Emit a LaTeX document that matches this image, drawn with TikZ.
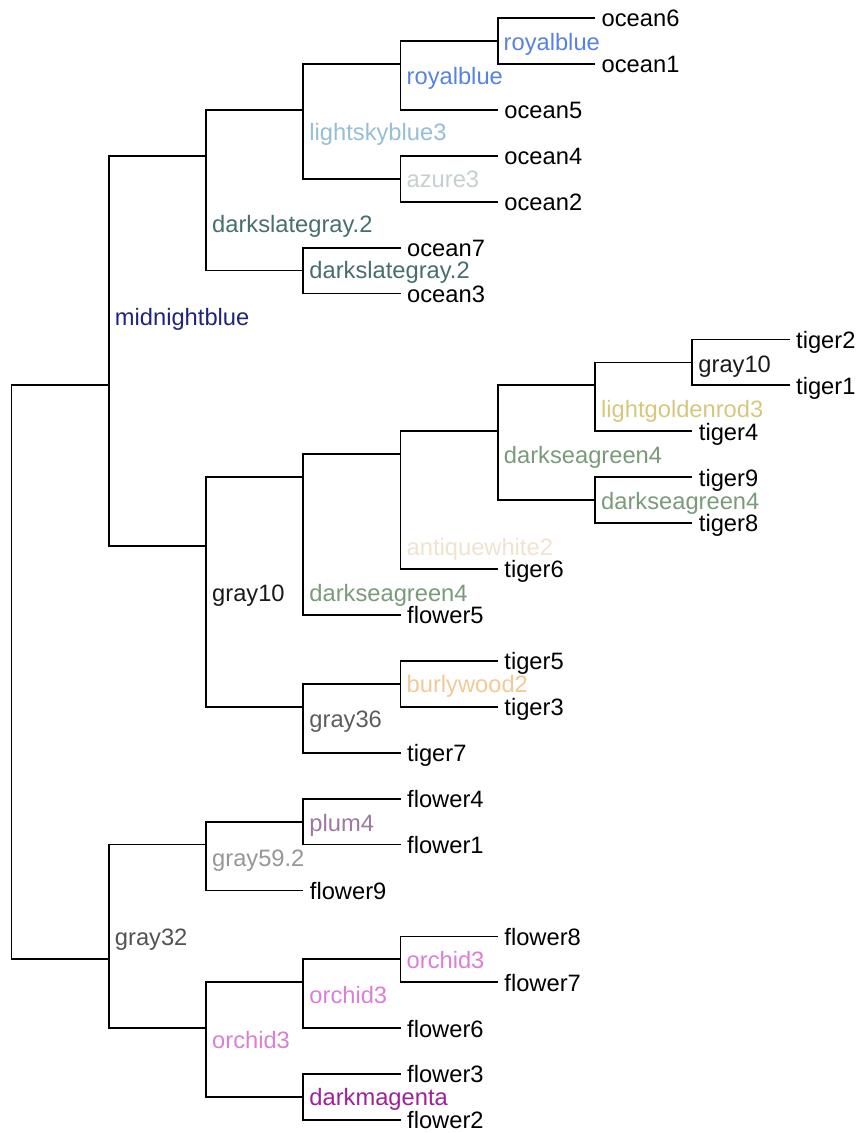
\documentclass[tikz,border=0pt]{standalone}
\usepackage{fontspec}
\setmainfont{Liberation Sans}
\definecolor{cRoyal}{RGB}{86,130,230}
\definecolor{cSky}{RGB}{150,190,212}
\definecolor{cAzure}{RGB}{196,208,208}
\definecolor{cDSG}{RGB}{70,110,110}
\definecolor{cMidnight}{RGB}{30,35,125}
\definecolor{cGrayTen}{RGB}{26,26,26}
\definecolor{cGold}{RGB}{214,199,124}
\definecolor{cSeaGreen}{RGB}{120,155,120}
\definecolor{cAntique}{RGB}{240,226,208}
\definecolor{cBurly}{RGB}{240,202,150}
\definecolor{cGrayThirtySix}{RGB}{92,92,92}
\definecolor{cPlum}{RGB}{158,120,160}
\definecolor{cGrayFiftyNine}{RGB}{150,150,150}
\definecolor{cGrayThirtyTwo}{RGB}{82,82,82}
\definecolor{cOrchid}{RGB}{220,125,215}
\definecolor{cMagenta}{RGB}{158,32,155}
\begin{document}
\begin{tikzpicture}[x=1pt,y=-1pt,
  edge/.style={line width=1.8pt, line join=miter, draw=black},
  lab/.style={anchor=base west, inner sep=0pt, font=\fontsize{23.7}{28}\selectfont},
  leaf/.style={lab, text=black}]
\useasboundingbox (0,0) rectangle (861,1133);
% internal nodes (x = level, y = mean of leaves)
\coordinate (root) at (11.5,569.04);
\coordinate (mb)   at (108.75,385.36);
\coordinate (g32)  at (108.75,959.36);
\coordinate (dsgO) at (206,155.76);
\coordinate (gyB)  at (206,546.08);
\coordinate (g59)  at (206,844.56);
\coordinate (oA)   at (206,1028.24);
\coordinate (lsb)  at (303.25,109.84);
\coordinate (dsgI) at (303.25,270.56);
\coordinate (dsgA) at (303.25,477.2);
\coordinate (g36)  at (303.25,706.8);
\coordinate (pl)   at (303.25,821.6);
\coordinate (oB)   at (303.25,982.32);
\coordinate (dm)   at (303.25,1097.12);
\coordinate (rbO)  at (400.5,63.92);
\coordinate (az)   at (400.5,178.72);
\coordinate (aw)   at (400.5,454.24);
\coordinate (bw)   at (400.5,683.84);
\coordinate (oC)   at (400.5,959.36);
\coordinate (rbI)  at (497.75,40.96);
\coordinate (dsgB) at (497.75,431.28);
\coordinate (lg)   at (595,385.36);
\coordinate (dsgC) at (595,500.16);
\coordinate (gyS)  at (692.25,362.4);
% leaf tips
\coordinate (ocean6)  at (595,18);
\coordinate (ocean1)  at (595,63.92);
\coordinate (ocean5)  at (497.75,109.84);
\coordinate (ocean4)  at (497.75,155.76);
\coordinate (ocean2)  at (497.75,201.68);
\coordinate (ocean7)  at (400.5,247.6);
\coordinate (ocean3)  at (400.5,293.52);
\coordinate (tiger2)  at (789.5,339.44);
\coordinate (tiger1)  at (789.5,385.36);
\coordinate (tiger4)  at (692.25,431.28);
\coordinate (tiger9)  at (692.25,477.2);
\coordinate (tiger8)  at (692.25,523.12);
\coordinate (tiger6)  at (497.75,569.04);
\coordinate (flower5) at (400.5,614.96);
\coordinate (tiger5)  at (497.75,660.88);
\coordinate (tiger3)  at (497.75,706.8);
\coordinate (tiger7)  at (400.5,752.72);
\coordinate (flower4) at (400.5,798.64);
\coordinate (flower1) at (400.5,844.56);
\coordinate (flower9) at (303.25,890.48);
\coordinate (flower8) at (497.75,936.4);
\coordinate (flower7) at (497.75,982.32);
\coordinate (flower6) at (400.5,1028.24);
\coordinate (flower3) at (400.5,1074.16);
\coordinate (flower2) at (400.5,1120.08);
% branches
\foreach \p/\c in {root/mb, root/g32, mb/dsgO, mb/gyB, dsgO/lsb, dsgO/dsgI,
  lsb/rbO, lsb/az, rbO/rbI, rbO/ocean5, rbI/ocean6, rbI/ocean1,
  az/ocean4, az/ocean2, dsgI/ocean7, dsgI/ocean3,
  gyB/dsgA, gyB/g36, dsgA/aw, dsgA/flower5, aw/dsgB, aw/tiger6,
  dsgB/lg, dsgB/dsgC, lg/gyS, lg/tiger4, gyS/tiger2, gyS/tiger1,
  dsgC/tiger9, dsgC/tiger8, g36/bw, g36/tiger7, bw/tiger5, bw/tiger3,
  g32/g59, g32/oA, g59/pl, g59/flower9, pl/flower4, pl/flower1,
  oA/oB, oA/dm, oB/oC, oB/flower6, oC/flower8, oC/flower7,
  dm/flower3, dm/flower2}
  \draw[edge] (\p) |- (\c);
% leaf labels
\foreach \l in {ocean6,ocean1,ocean5,ocean4,ocean2,ocean7,ocean3,
  tiger2,tiger1,tiger4,tiger9,tiger8,tiger6,flower5,tiger5,tiger3,tiger7,
  flower4,flower1,flower9,flower8,flower7,flower6,flower3,flower2}
  \node[leaf] (t-\l) at ([shift={(6.5,8.8)}]\l) {\l};
% internal node labels
\node[lab, text=cRoyal]         (L-rbI)  at (503.5,50)    {royalblue};
\node[lab, text=cRoyal]         (L-rbO)  at (406.5,84)    {royalblue};
\node[lab, text=cSky]           (L-lsb)  at (309.25,140.5) {lightskyblue3};
\node[lab, text=cAzure]         (L-az)   at (406.5,187)   {azure3};
\node[lab, text=cDSG]           (L-dsgO) at (212,232)     {darkslategray.2};
\node[lab, text=cDSG]           (L-dsgI) at (309.25,278.5) {darkslategray.2};
\node[lab, text=cMidnight]      (L-mb)   at (114.75,325.5) {midnightblue};
\node[lab, text=cGrayTen]       (L-gyS)  at (698.25,372)  {gray10};
\node[lab, text=cGold]          (L-lg)   at (601,417)     {lightgoldenrod3};
\node[lab, text=cSeaGreen]      (L-dsgB) at (503.75,463)  {darkseagreen4};
\node[lab, text=cSeaGreen]      (L-dsgC) at (601,509)     {darkseagreen4};
\node[lab, text=cAntique]       (L-aw)   at (406.5,555)   {antiquewhite2};
\node[lab, text=cSeaGreen]      (L-dsgA) at (309.25,601)  {darkseagreen4};
\node[lab, text=cGrayTen]       (L-gyB)  at (212,601.5)   {gray10};
\node[lab, text=cBurly]         (L-bw)   at (406.5,692)   {burlywood2};
\node[lab, text=cGrayThirtySix] (L-g36)  at (309.25,727.5) {gray36};
\node[lab, text=cPlum]          (L-pl)   at (309.25,831)  {plum4};
\node[lab, text=cGrayFiftyNine] (L-g59)  at (212,866)     {gray59.2};
\node[lab, text=cGrayThirtyTwo] (L-g32)  at (114.75,945)  {gray32};
\node[lab, text=cOrchid]        (L-oC)   at (406.5,968)   {orchid3};
\node[lab, text=cOrchid]        (L-oB)   at (309.25,1003.5) {orchid3};
\node[lab, text=cOrchid]        (L-oA)   at (212,1048.5)  {orchid3};
\node[lab, text=cMagenta]       (L-dm)   at (309.25,1105.5) {darkmagenta};
\end{tikzpicture}
\end{document}
